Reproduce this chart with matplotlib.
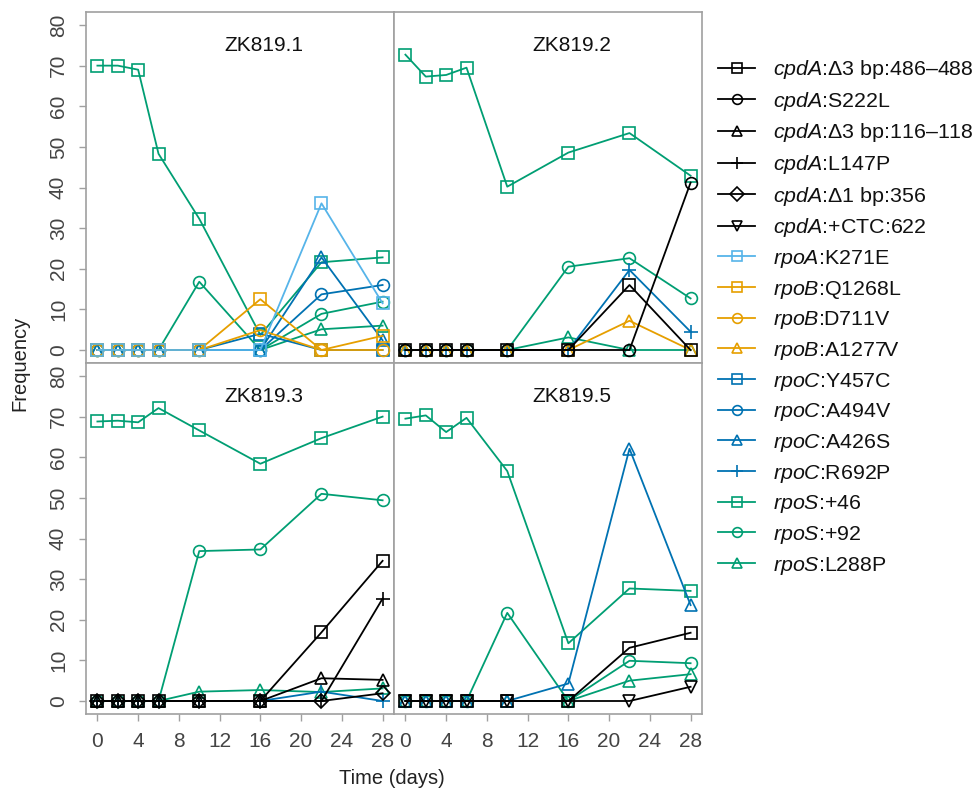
import matplotlib
matplotlib.use("Agg")
import matplotlib.pyplot as plt
from matplotlib.lines import Line2D

plt.rcParams["font.family"] = ["Liberation Sans", "DejaVu Sans"]
plt.rcParams["mathtext.fontset"] = "custom"
plt.rcParams["mathtext.it"] = "Liberation Sans:italic"
plt.rcParams["mathtext.rm"] = "Liberation Sans"

# ---------------- data ----------------
times = [0, 2, 4, 6, 10, 16, 22, 28]

genes = ["cpdA", "cpdA", "cpdA", "cpdA", "cpdA", "cpdA",
         "rpoA", "rpoB", "rpoB", "rpoB",
         "rpoC", "rpoC", "rpoC", "rpoC",
         "rpoS", "rpoS", "rpoS"]
changes = ["Δ3 bp:486–488", "S222L", "Δ3 bp:116–118", "L147P", "Δ1 bp:356", "+CTC:622",
           "K271E", "Q1268L", "D711V", "A1277V",
           "Y457C", "A494V", "A426S", "R692P",
           "+46", "+92", "L288P"]
series_colors = ["#000000"] * 6 + ["#56B4E9"] + ["#E69F00"] * 3 + ["#0072B2"] * 4 + ["#009E73"] * 3
series_markers = ["s", "o", "^", "+", "D", "v",
                  "s", "s", "o", "^",
                  "s", "o", "^", "+",
                  "s", "o", "^"]

populations = ["ZK819.1", "ZK819.2", "ZK819.3", "ZK819.5"]

zk819_1 = {
    "rpoS:+46":    [70.0, 70.0, 69.0, 48.3, 32.3, 3.7, 21.6, 22.8],
    "rpoS:+92":    [0, 0, 0, 0, 16.8, 0, 8.9, 11.9],
    "rpoS:L288P":  [0, 0, 0, 0, 0, 0, 5.1, 6.0],
    "rpoC:Y457C":  [0, 0, 0, 0, 0, 4.0, 0, 0],
    "rpoC:A494V":  [0, 0, 0, 0, 0, 0, 13.7, 16.0],
    "rpoC:A426S":  [0, 0, 0, 0, 0, 0, 22.8, 2.4],
    "rpoB:Q1268L": [0, 0, 0, 0, 0, 12.5, 0, 3.5],
    "rpoB:D711V":  [0, 0, 0, 0, 0, 4.9, 0, 0],
    "rpoA:K271E":  [0, 0, 0, 0, 0, 0, 36.1, 11.5],
}
zk819_2 = {
    "rpoS:+46":    [72.7, 67.3, 67.7, 69.5, 40.2, 48.6, 53.4, 42.9],
    "rpoS:+92":    [0, 0, 0, 0, 0, 20.5, 22.6, 12.7],
    "rpoS:L288P":  [0, 0, 0, 0, 0, 3.1, 0, 0],
    "rpoC:R692P":  [0, 0, 0, 0, 0, 0, 19.7, 4.5],
    "rpoB:A1277V": [0, 0, 0, 0, 0, 0, 7.2, 0],
    "cpdA:Δ3 bp:486–488": [0, 0, 0, 0, 0, 0, 16.0, 0],
    "cpdA:S222L":  [0, 0, 0, 0, 0, 0, 0, 41.2],
}
zk819_3 = {
    "rpoS:+46":    [68.8, 69.0, 68.6, 72.1, 66.6, 58.4, 64.7, 70.0],
    "rpoS:+92":    [0, 0, 0, 0, 36.9, 37.3, 51.0, 49.4],
    "rpoS:L288P":  [0, 0, 0, 0, 2.3, 2.7, 2.2, 3.1],
    "rpoC:R692P":  [0, 0, 0, 0, 0, 0, 2.3, 0],
    "cpdA:Δ3 bp:486–488": [0, 0, 0, 0, 0, 0, 16.9, 34.5],
    "cpdA:Δ3 bp:116–118": [0, 0, 0, 0, 0, 0, 5.6, 5.2],
    "cpdA:L147P":  [0, 0, 0, 0, 0, 0, 0, 25.2],
    "cpdA:Δ1 bp:356": [0, 0, 0, 0, 0, 0, 0, 1.9],
}
zk819_5 = {
    "rpoS:+46":    [69.5, 70.3, 66.2, 69.7, 56.6, 14.2, 27.7, 27.1],
    "rpoS:+92":    [0, 0, 0, 0, 21.7, 0, 9.9, 9.3],
    "rpoS:L288P":  [0, 0, 0, 0, 0, 0, 5.0, 6.6],
    "rpoC:A426S":  [0, 0, 0, 0, 0, 4.3, 62.1, 23.6],
    "cpdA:Δ3 bp:486–488": [0, 0, 0, 0, 0, 0, 13.1, 16.8],
    "cpdA:+CTC:622": [0, 0, 0, 0, 0, 0, 0, 3.5],
}
panel_data = [zk819_1, zk819_2, zk819_3, zk819_5]

x_ticks = [0, 4, 8, 12, 16, 20, 24, 28]
y_ticks = [0, 10, 20, 30, 40, 50, 60, 70, 80]

# ---------------- figure ----------------
W, H = 974, 791
fig = plt.figure(figsize=(W / 100, H / 100), dpi=100)

frame_col = "#a0a0a0"
text_col = "#222222"
tick_col = "#444444"

left = [86, 394]
top = [12, 363]
pw, ph = 308, 351

keys = [g + ":" + c for g, c in zip(genes, changes)]
style = {k: (col, m) for k, col, m in zip(keys, series_colors, series_markers)}

for i, (pop, data) in enumerate(zip(populations, panel_data)):
    r, c = divmod(i, 2)
    ax = fig.add_axes([left[c] / W, 1 - (top[r] + ph) / H, pw / W, ph / H])
    for k, vals in data.items():
        col, m = style[k]
        ms = 8.5 if m in ("s", "o", "^", "v") else (10 if m == "+" else 7.5)
        ax.plot(times, vals, color=col, marker=m, markersize=ms, markerfacecolor="none",
                markeredgecolor=col, markeredgewidth=1.2, linewidth=1.3, clip_on=False)
    ax.set_xlim(-1.12, 29.12)
    ax.set_ylim(-3.2, 83.2)
    ax.text(16.3, 75, pop, ha="center", va="center", fontsize=15, color="#111111")
    for s in ax.spines.values():
        s.set_color(frame_col)
        s.set_linewidth(1.2)
    ax.set_xticks(x_ticks)
    ax.set_yticks(y_ticks)
    ax.tick_params(axis="both", colors=frame_col, labelcolor=tick_col, labelsize=15,
                   length=5, width=1.0, pad=8)
    if r == 0:
        ax.tick_params(axis="x", bottom=False, labelbottom=False)
    if c == 1:
        ax.tick_params(axis="y", left=False, labelleft=False)
    else:
        for lbl in ax.get_yticklabels():
            lbl.set_rotation(90)
            lbl.set_va("center")

fig.text(20 / W, 1 - 363 / H, "Frequency", rotation=90, ha="center", va="center",
         fontsize=14.5, color=text_col)
fig.text(392 / W, 1 - 779 / H, "Time (days)", ha="center", va="center",
         fontsize=14.5, color=text_col)

# legend
handles = []
labels = []
for g, ch, col, m in zip(genes, changes, series_colors, series_markers):
    ms = 7 if m != "+" else 9
    handles.append(Line2D([0], [0], color=col, marker=m, markersize=ms, markerfacecolor="none",
                          markeredgecolor=col, markeredgewidth=1.2, linewidth=1.3))
    labels.append(r"$\it{" + g + "}$:" + ch)
leg = fig.legend(handles, labels, loc="upper left", bbox_to_anchor=(718 / W, 1 - 58 / H),
                 frameon=False, fontsize=15.4, handlelength=1.73, handletextpad=0.84,
                 labelspacing=0.405, borderpad=0, borderaxespad=0)
for t in leg.get_texts():
    t.set_color("#111111")

fig.savefig("out.png", dpi=100)
